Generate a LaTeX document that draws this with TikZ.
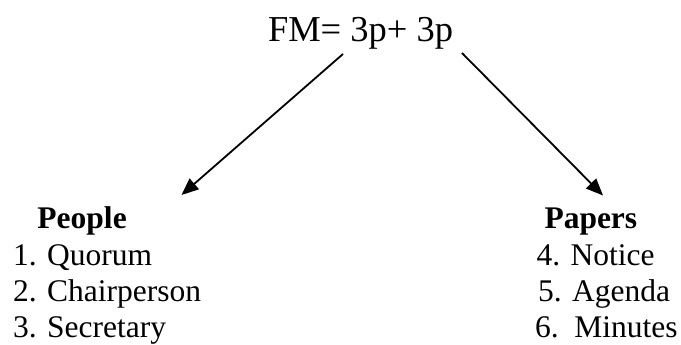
\documentclass[tikz,border=0pt]{standalone}
\usepackage{fontspec}
\setmainfont{Liberation Serif}
\usetikzlibrary{arrows.meta}
\tikzset{
  txt/.style={anchor=base west, inner sep=0pt, outer sep=0pt, font=\fontsize{31.5}{37}\selectfont},
  head/.style={txt, font=\fontsize{31.5}{37}\selectfont\bfseries},
  title/.style={anchor=base west, inner sep=0pt, outer sep=0pt, font=\fontsize{36.5}{44}\selectfont},
  conn/.style={line width=1.8pt, -{Triangle[length=17pt,width=14pt]}}
}
\begin{document}
\begin{tikzpicture}[x=1pt,y=-1pt]
\useasboundingbox (0,0) rectangle (681,345);
\node[title] (fm) at (268,42) {FM= 3p+ 3p};
\node[head] (people) at (37.5,228) {People};
\node[txt] (l1) at (13,265) {1. Quorum};
\node[txt] (l2) at (13,301.5) {2. Chairperson};
\node[txt] (l3) at (13,337.5) {3. Secretary};
\node[head] (papers) at (544.5,228) {Papers};
\node[txt] (r4) at (536.5,265) {4. Notice};
\node[txt] (r5) at (538,301.5) {5. Agenda};
\node[txt] (r6) at (535,337.5) {6.\ \ Minutes};
\coordinate (aLs) at (343,54);
\coordinate (aLe) at (181.5,195);
\coordinate (aRs) at (462,53);
\coordinate (aRe) at (603,195.5);
\draw[conn] (aLs) -- (aLe);
\draw[conn] (aRs) -- (aRe);
\end{tikzpicture}
\end{document}
